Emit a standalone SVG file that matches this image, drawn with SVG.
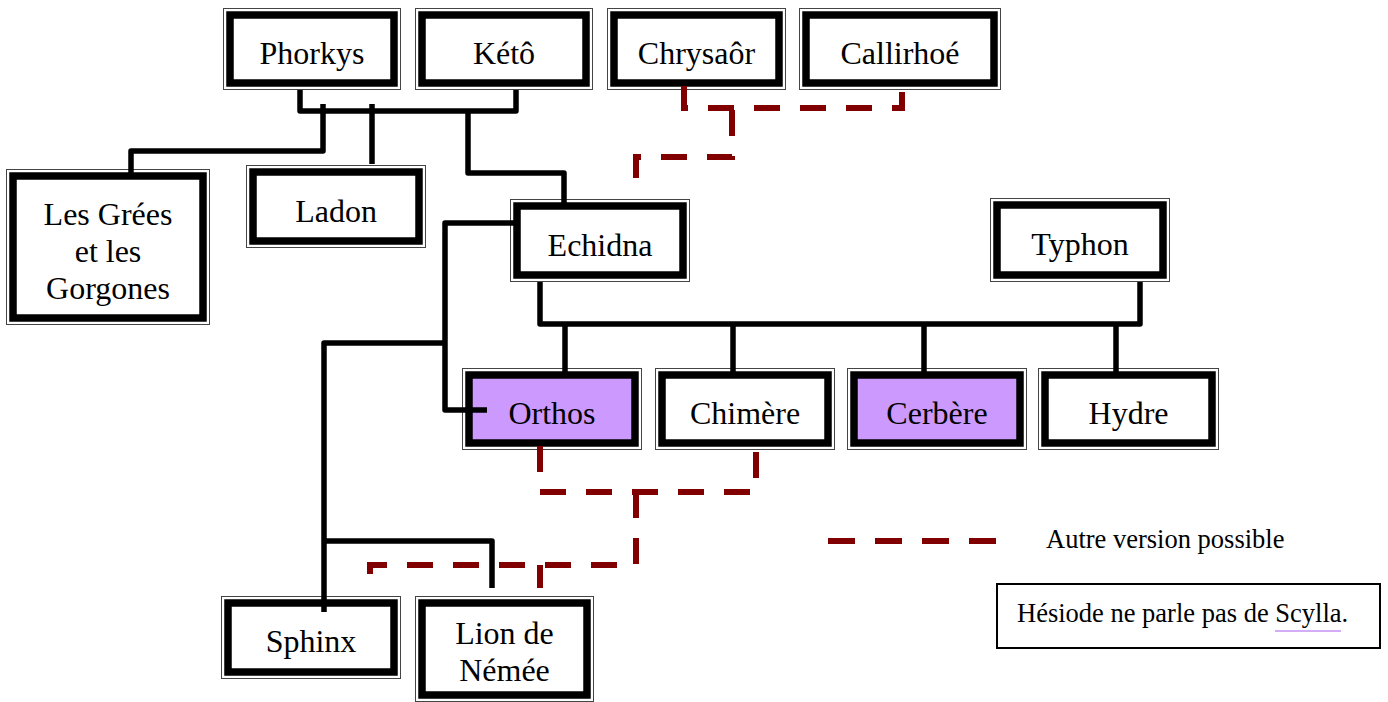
<svg xmlns="http://www.w3.org/2000/svg" width="1388" height="702" viewBox="0 0 1388 702">
  <style>
    .frame { fill: none; stroke: #444; stroke-width: 1; }
    .border { fill: #fff; stroke: #000; stroke-width: 7.5; }
    .border.hl { fill: #cc99ff; }
    .label { font-family: "Liberation Serif", "Times New Roman", serif; font-size: 32px; fill: #000; text-anchor: middle; }
    .small { font-family: "Liberation Serif", "Times New Roman", serif; font-size: 26.5px; fill: #000; }
    .link { fill: none; stroke: #000; stroke-width: 5.5; stroke-linejoin: round; stroke-linecap: butt; }
    .alt { fill: none; stroke: #800000; stroke-width: 6; stroke-dasharray: 26 20; stroke-linecap: butt; }
    .legend-dash { fill: none; stroke: #800000; stroke-width: 6; stroke-dasharray: 27 20; }
  </style>

  <rect width="1388" height="702" fill="#fff"/>

  <!-- family members: double-framed boxes -->
  <g id="phorkys">
    <rect class="frame" x="223.5" y="8.5" width="177" height="81"/>
    <rect class="border" x="230" y="15" width="164" height="68"/>
    <text class="label" x="312" y="64">Phorkys</text>
  </g>
  <g id="keto">
    <rect class="frame" x="415.5" y="8.5" width="177" height="81"/>
    <rect class="border" x="422" y="15" width="164" height="68"/>
    <text class="label" x="504" y="64">Kétô</text>
  </g>
  <g id="chrysaor">
    <rect class="frame" x="607.5" y="8.5" width="178" height="81"/>
    <rect class="border" x="614" y="15" width="165" height="68"/>
    <text class="label" x="696.5" y="64">Chrysaôr</text>
  </g>
  <g id="callirhoe">
    <rect class="frame" x="799.5" y="8.5" width="201" height="81"/>
    <rect class="border" x="806" y="15" width="188" height="68"/>
    <text class="label" x="900" y="64">Callirhoé</text>
  </g>
  <g id="grees-gorgones">
    <rect class="frame" x="6.5" y="169.5" width="203" height="155"/>
    <rect class="border" x="13" y="176" width="190" height="142"/>
    <text class="label" x="108" y="225">Les Grées</text>
    <text class="label" x="108" y="262">et les</text>
    <text class="label" x="108" y="299">Gorgones</text>
  </g>
  <g id="ladon">
    <rect class="frame" x="246.5" y="165.5" width="179" height="82"/>
    <rect class="border" x="253" y="172" width="166" height="69"/>
    <text class="label" x="336" y="222">Ladon</text>
  </g>
  <g id="echidna">
    <rect class="frame" x="510.5" y="199.5" width="179" height="82"/>
    <rect class="border" x="517" y="206" width="166" height="69"/>
    <text class="label" x="600" y="256">Echidna</text>
  </g>
  <g id="typhon">
    <rect class="frame" x="990.5" y="198.5" width="179" height="83"/>
    <rect class="border" x="997" y="205" width="166" height="70"/>
    <text class="label" x="1080" y="255">Typhon</text>
  </g>
  <g id="orthos">
    <rect class="frame" x="462.5" y="368.5" width="179" height="81"/>
    <rect class="border hl" x="469" y="375" width="166" height="68"/>
    <text class="label" x="552" y="424">Orthos</text>
  </g>
  <g id="chimere">
    <rect class="frame" x="655.5" y="368.5" width="179" height="81"/>
    <rect class="border" x="662" y="375" width="166" height="68"/>
    <text class="label" x="745" y="424">Chimère</text>
  </g>
  <g id="cerbere">
    <rect class="frame" x="847.5" y="368.5" width="179" height="81"/>
    <rect class="border hl" x="854" y="375" width="166" height="68"/>
    <text class="label" x="937" y="424">Cerbère</text>
  </g>
  <g id="hydre">
    <rect class="frame" x="1038.5" y="368.5" width="180" height="81"/>
    <rect class="border" x="1045" y="375" width="167" height="68"/>
    <text class="label" x="1128.5" y="424">Hydre</text>
  </g>
  <g id="sphinx">
    <rect class="frame" x="221.5" y="596.5" width="179" height="82"/>
    <rect class="border" x="228" y="603" width="166" height="69"/>
    <text class="label" x="311" y="652">Sphinx</text>
  </g>
  <g id="lion-nemee">
    <rect class="frame" x="415.5" y="596.5" width="178" height="105"/>
    <rect class="border" x="422" y="603" width="165" height="92"/>
    <text class="label" x="504.5" y="644">Lion de</text>
    <text class="label" x="504.5" y="681">Némée</text>
  </g>

  <!-- legend and note -->
  <g id="legend">
    <path class="legend-dash" d="M828,541 H996"/>
    <text class="small" x="1046" y="548">Autre version possible</text>
  </g>
  <g id="note">
    <rect x="997" y="584" width="383" height="64" fill="#fff" stroke="#000" stroke-width="2"/>
    <text class="small" x="1017" y="622">Hésiode ne parle pas de Scylla.</text>
    <line x1="1275" y1="631" x2="1341" y2="631" stroke="#c493f5" stroke-width="1.5"/>
  </g>

  <!-- lines of descent -->
  <g id="connectors">
    <!-- Phorkys + Kétô -->
    <path class="link" d="M300,90 V111 H516 V90"/>
    <path class="link" d="M323,104 V151 H131 V173"/>
    <path class="link" d="M372,104 V164"/>
    <path class="link" d="M468,111 V173 H564 V205"/>
    <!-- Echidna to Orthos, Orthos to Sphinx and Lion -->
    <path class="link" d="M516,223 H445 V410 H487"/>
    <path class="link" d="M445,343 H324 V612"/>
    <path class="link" d="M324,541 H492 V588"/>
    <!-- Echidna + Typhon -->
    <path class="link" d="M540,282 V324 H1140 V282"/>
    <path class="link" d="M565,324 V372"/>
    <path class="link" d="M733,324 V372"/>
    <path class="link" d="M924,324 V372"/>
    <path class="link" d="M1116,324 V372"/>
    <!-- alternative versions -->
    <path class="alt" d="M684,86 V108 H902 V88"/>
    <path class="alt" d="M732,110 V157 H636 V180"/>
    <path class="alt" d="M540,446 V492 H756 V450"/>
    <path class="alt" d="M636,492 V565 H370 V583"/>
    <path class="alt" d="M540,565 V588"/>
  </g>
</svg>
